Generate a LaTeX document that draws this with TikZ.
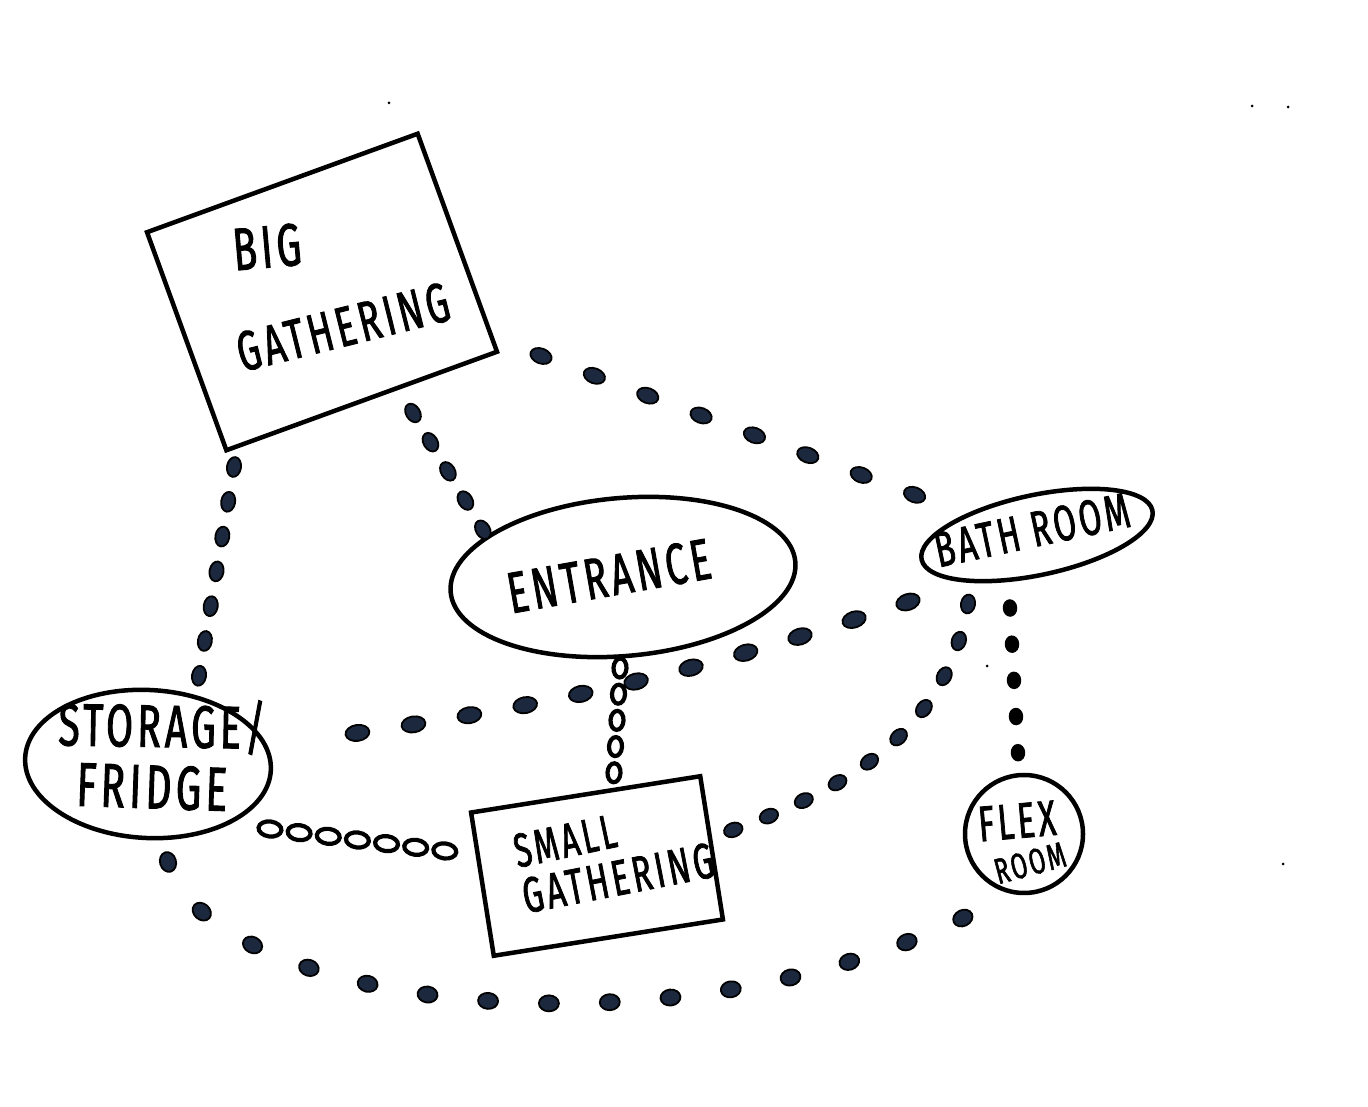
\documentclass[tikz,border=0pt]{standalone}
\usepackage{fontspec}
\usetikzlibrary{shapes.geometric,decorations.markings}
\newfontfamily\hand[FakeStretch=0.65,FakeBold=1.5,LetterSpace=7]{Fira Sans}
\definecolor{dotnavy}{RGB}{28,40,62}
\tikzset{
  room/.style={draw=black, line width=4.5pt, inner sep=0pt},
  lbl/.style={inner sep=0pt, font=\hand, text=black},
  navydots/.style 2 args={decoration={markings,
      mark=between positions 0 and 1 step #1 with {\filldraw[fill=dotnavy, draw=black, line width=1.8pt] (0,0) ellipse (#2);}}, decorate},
  blackdots/.style 2 args={decoration={markings,
      mark=between positions 0 and 1 step #1 with {\filldraw[fill=black, draw=black, line width=1.5pt] (0,0) ellipse (#2);}}, decorate},
  rings/.style 2 args={decoration={markings,
      mark=between positions 0 and 1 step #1 with {\filldraw[fill=white, draw=black, line width=4.2pt] (0,0) ellipse (#2);}}, decorate},
  speck/.style={fill=black, circle, inner sep=0pt, minimum size=3pt}
}
\begin{document}
\begin{tikzpicture}[x=1pt,y=1pt]
\useasboundingbox[fill=white] (0,0) rectangle (1368,1106);

% rooms
\node[room, rectangle, rotate=20, minimum width=288, minimum height=232] (bg) at (322,814) {};
\node[room, ellipse, rotate=5, minimum width=346, minimum height=158] (ent) at (623,529) {};
\node[room, ellipse, rotate=12, minimum width=236, minimum height=80] (bath) at (1037,571) {};
\node[room, ellipse, rotate=-3, minimum width=246, minimum height=148] (stor) at (148,342) {};
\node[room, circle, minimum size=118] (flex) at (1024,272) {};
\node[room, rectangle, rotate=9, minimum width=232, minimum height=145] (small) at (597,240) {};

% labels
\node[lbl, rotate=5, font=\hand\fontsize{60}{60}\selectfont] (tbig) at (267,859) {BIG};
\node[lbl, rotate=14, font=\hand\fontsize{56}{56}\selectfont] (tbg) at (343,779) {GATHERING};
\node[lbl, rotate=10, font=\hand\fontsize{58}{58}\selectfont] (tent) at (609,530) {ENTRANCE};
\node[lbl, rotate=12, font=\hand\fontsize{50}{50}\selectfont] (tbath) at (1032,576) {BATH ROOM};
\node[lbl, rotate=-1, font=\hand\fontsize{60}{60}\selectfont] (tstor) at (162,380) {STORAGE/};
\node[lbl, rotate=-2, font=\hand\fontsize{62}{62}\selectfont] (tfri) at (152,319) {FRIDGE};
\node[lbl, rotate=12, font=\hand\fontsize{48}{48}\selectfont] (tsm) at (565,265) {SMALL};
\node[lbl, rotate=11, font=\hand\fontsize{50}{50}\selectfont] (tsg) at (618,228) {GATHERING};
\node[lbl, rotate=5, font=\hand\fontsize{50}{50}\selectfont] (tflex) at (1017,285) {FLEX};
\node[lbl, rotate=15, font=\hand\fontsize{36}{36}\selectfont] (troom) at (1030,243) {ROOM};

% connectors
\coordinate (freeend) at (357,373);
\path[navydots={0.1665}{10 and 7}] ([shift={(-88,-175)}]bg.center) -- ([shift={(51,88)}]stor.center);
\path[navydots={0.2495}{10 and 7}] ([shift={(91,-121)}]bg.center) -- ([shift={(-140,47)}]ent.center);
\path[navydots={0.1427}{11 and 7.5}] ([shift={(219,-64)}]bg.center) -- ([shift={(-122,40)}]bath.center);
\path[navydots={0.0999}{12 and 8}] ([shift={(-129,-67)}]bath.center) to[bend left=5] (freeend);
\path[navydots={0.1110}{9.5 and 7}] ([shift={(-69,-69)}]bath.center) to[out=260,in=20] ([shift={(136,36)}]small.center);
\path[blackdots={0.2495}{8 and 6.5}] ([shift={(-27,-73)}]bath.center) -- ([shift={(-6,81)}]flex.center);
\path[rings={0.2495}{9.5 and 6.5}] ([shift={(-3,-91)}]ent.center) -- ([shift={(17,93)}]small.center);
\path[rings={0.1665}{11.5 and 7.5}] ([shift={(122,-65)}]stor.center) -- ([shift={(-152,15)}]small.center);
\path[navydots={0.07140}{10 and 8}] ([shift={(20,-98)}]stor.center) .. controls +(40,-140) and +(-313,-150) .. ([shift={(-61,-84)}]flex.center);

% specks
\node[speck] (s1) at (389,1003) {};
\node[speck] (s2) at (1252,1000) {};
\node[speck] (s3) at (1288,999) {};
\node[speck] (s4) at (1283,242) {};
\node[speck] (s5) at (987,440) {};
\end{tikzpicture}
\end{document}
